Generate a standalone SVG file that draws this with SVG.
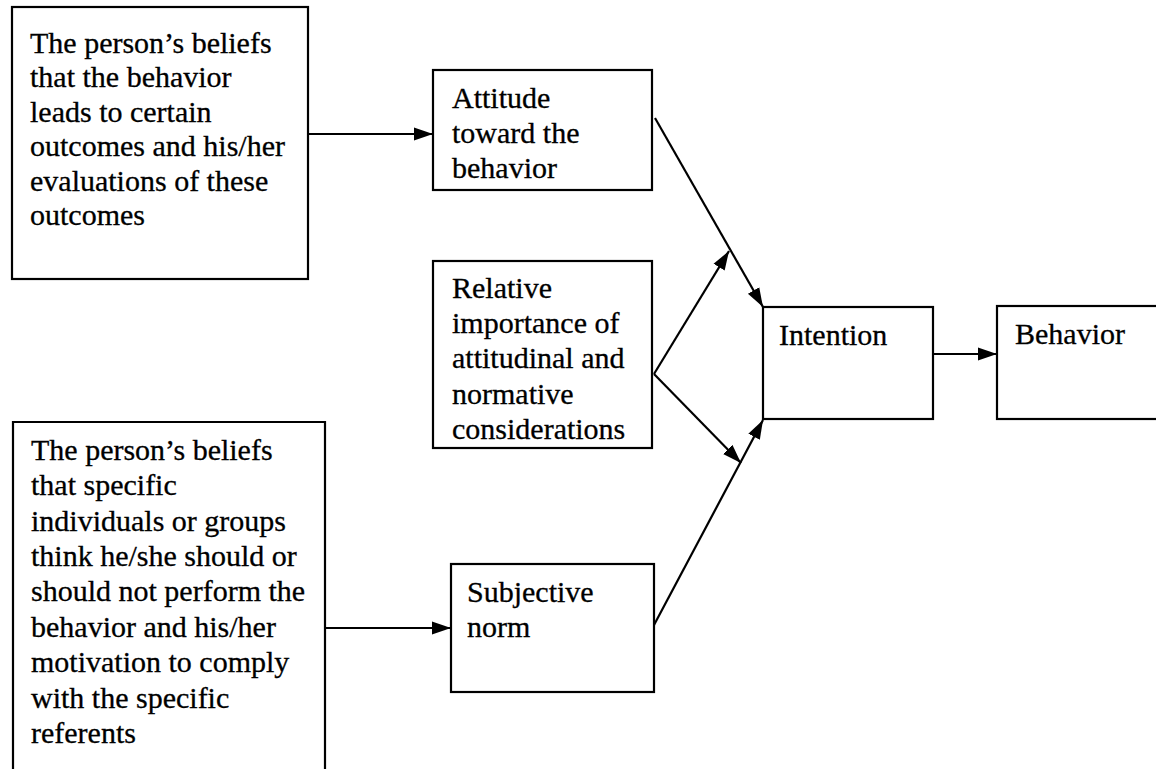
<svg xmlns="http://www.w3.org/2000/svg" width="1156" height="769" viewBox="0 0 1156 769">
<style>
  .box { fill: #ffffff; stroke: #000000; stroke-width: 2.2; }
  .t { font-family: "Liberation Serif", "Times New Roman", serif; font-size: 30px; fill: #000000; stroke: #000000; stroke-width: 0.3; }
  .c { stroke: #000000; stroke-width: 2.2; fill: none; marker-end: url(#ah); }
</style>
<defs>
  <marker id="ah" markerUnits="userSpaceOnUse" markerWidth="20" markerHeight="16" refX="19" refY="8" orient="auto">
    <path d="M0,1.5 L19,8 L0,14.5 Z" fill="#000000"/>
  </marker>
</defs>
<rect width="1156" height="769" fill="#ffffff"/>

<g id="beliefs-outcomes">
  <rect class="box" x="12" y="7" width="296" height="272"/>
  <text class="t" x="30" y="53">The person’s beliefs</text>
  <text class="t" x="30" y="87">that the behavior</text>
  <text class="t" x="30" y="122">leads to certain</text>
  <text class="t" x="30" y="156">outcomes and his/her</text>
  <text class="t" x="30" y="191">evaluations of these</text>
  <text class="t" x="30" y="225">outcomes</text>
</g>

<g id="beliefs-referents">
  <path class="box" d="M13,780 L13,422 L325,422 L325,780"/>
  <text class="t" x="31" y="460">The person’s beliefs</text>
  <text class="t" x="31" y="495">that specific</text>
  <text class="t" x="31" y="531">individuals or groups</text>
  <text class="t" x="31" y="566">think he/she should or</text>
  <text class="t" x="31" y="601">should not perform the</text>
  <text class="t" x="31" y="637">behavior and his/her</text>
  <text class="t" x="31" y="672">motivation to comply</text>
  <text class="t" x="31" y="708">with the specific</text>
  <text class="t" x="31" y="743">referents</text>
</g>

<g id="attitude">
  <rect class="box" x="433" y="70" width="219" height="120"/>
  <text class="t" x="452" y="108">Attitude</text>
  <text class="t" x="452" y="143">toward the</text>
  <text class="t" x="452" y="178">behavior</text>
</g>

<g id="relative-importance">
  <rect class="box" x="433" y="261" width="219" height="187"/>
  <text class="t" x="452" y="298">Relative</text>
  <text class="t" x="452" y="333">importance of</text>
  <text class="t" x="452" y="368">attitudinal and</text>
  <text class="t" x="452" y="404">normative</text>
  <text class="t" x="452" y="439">considerations</text>
</g>

<g id="subjective-norm">
  <rect class="box" x="451" y="564" width="203" height="128"/>
  <text class="t" x="467" y="602">Subjective</text>
  <text class="t" x="467" y="637">norm</text>
</g>

<g id="intention">
  <rect class="box" x="763" y="307" width="170" height="112"/>
  <text class="t" x="779" y="345">Intention</text>
</g>

<g id="behavior">
  <rect class="box" x="997" y="306" width="175" height="113"/>
  <text class="t" x="1015" y="344">Behavior</text>
</g>

<g id="connectors">
  <line class="c" x1="308" y1="134" x2="433" y2="134"/>
  <line class="c" x1="325" y1="628" x2="451" y2="628"/>
  <line class="c" x1="655" y1="118" x2="763" y2="307"/>
  <line class="c" x1="654" y1="374" x2="729" y2="251"/>
  <line class="c" x1="654" y1="374" x2="741" y2="463"/>
  <line class="c" x1="654" y1="625" x2="763" y2="420"/>
  <line class="c" x1="933" y1="354" x2="997" y2="354"/>
</g>
</svg>
